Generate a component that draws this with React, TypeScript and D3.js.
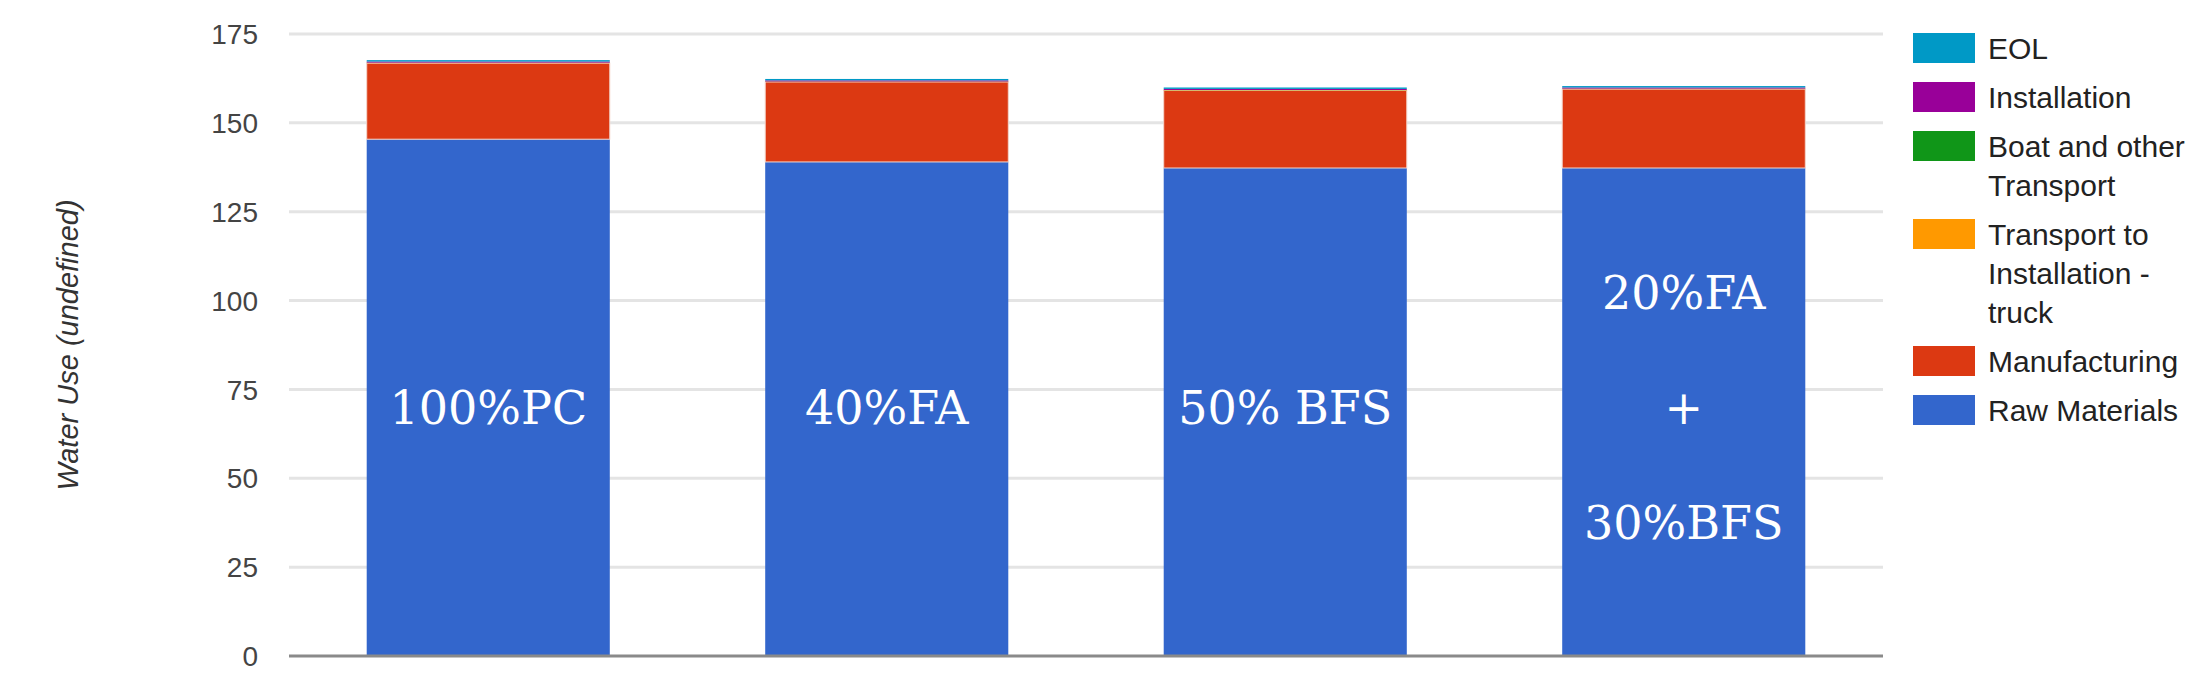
import React from 'react';
import * as d3 from 'd3';

const categories = ['100%PC', '40%FA', '50% BFS', '20%FA + 30%BFS'];
const barLabels = [['100%PC'], ['40%FA'], ['50% BFS'], ['20%FA', '+', '30%BFS']];

// stack order, bottom to top
const seriesNames = [
  'Raw Materials',
  'Manufacturing',
  'Transport to Installation - truck',
  'Boat and other Transport',
  'Installation',
  'EOL',
];
const rawMaterials = [145.4, 139.0, 137.3, 137.3];
const manufacturing = [21.4, 22.5, 21.8, 22.2];
const transportTruck = [0.1, 0.1, 0.1, 0.1];
const boatTransport = [0.05, 0.05, 0.05, 0.05];
const installation = [0.3, 0.3, 0.3, 0.3];
const eol = [0.4, 0.4, 0.4, 0.4];
const seriesColors = ['#3366cc', '#dc3912', '#ff9900', '#109618', '#990099', '#0099c6'];

const yTicks = [0, 25, 50, 75, 100, 125, 150, 175];

const width = 2211;
const height = 693;
const plot = {left: 289, right: 1883, top: 34, bottom: 656};

const seriesValues = [rawMaterials, manufacturing, transportTruck, boatTransport, installation, eol];
const rows = categories.map((c, i) => {
  const row: Record<string, any> = {category: c};
  seriesNames.forEach((s, j) => {
    row[s] = seriesValues[j][i];
  });
  return row;
});

const legendFont = "30px 'Liberation Sans', Arial, sans-serif";

function wrapLabel(label: string, maxWidth: number): string[] {
  const canvas = document.createElement('canvas');
  const ctx = canvas.getContext('2d');
  if (!ctx) return [label];
  ctx.font = legendFont;
  const words = label.split(' ');
  const lines: string[] = [];
  let line = '';
  words.forEach((w) => {
    const test = line ? `${line} ${w}` : w;
    if (line && ctx.measureText(test).width > maxWidth) {
      lines.push(line);
      line = w;
    } else {
      line = test;
    }
  });
  if (line) lines.push(line);
  return lines;
}

export default function App() {
  const xScale = d3.scaleBand()
    .domain(categories)
    .range([plot.left, plot.right])
    .paddingInner(0.39)
    .paddingOuter(0.195);

  const yScale = d3.scaleLinear()
    .domain([0, 175])
    .range([plot.bottom, plot.top]);

  const stacked = d3.stack().keys(seriesNames)(rows as any);

  // legend, top entry is last series
  const legendItems = seriesNames.map((s, i) => ({name: s, color: seriesColors[i]})).reverse();
  let cursor = 48;
  const legendLayout = legendItems.map((item) => {
    const lines = wrapLabel(item.name, 205);
    const y0 = cursor;
    cursor = y0 + (lines.length - 1) * 39 + 49;
    return {...item, lines, y0};
  });

  const labelCenter = yScale(70);
  const lineGap = 115;

  return (
    <svg
      width={width}
      height={height}
      style={{position: 'absolute', left: 0, top: 0, background: '#fff'}}
    >
      {yTicks.filter((t) => t !== 0).map((t) => (
        <line
          key={t}
          x1={plot.left}
          x2={plot.right}
          y1={yScale(t)}
          y2={yScale(t)}
          stroke="#e4e4e4"
          strokeWidth={3}
        />
      ))}
      {yTicks.map((t) => (
        <text
          key={t}
          x={258}
          y={yScale(t)}
          dy="0.36em"
          textAnchor="end"
          fontFamily="'Liberation Sans', Arial, sans-serif"
          fontSize={28}
          fill="#444"
        >{t}</text>
      ))}
      <text
        transform={`translate(68, 345) rotate(-90)`}
        textAnchor="middle"
        dy="0.36em"
        fontFamily="'Liberation Sans', Arial, sans-serif"
        fontStyle="italic"
        fontSize={29}
        fill="#333"
      >Water Use (undefined)</text>

      {stacked.map((layer, j) => (
        <g key={layer.key} fill={seriesColors[j]}>
          {layer.map((d, i) => (
            <rect
              key={categories[i]}
              x={xScale(categories[i])}
              y={yScale(d[1])}
              width={xScale.bandwidth()}
              height={Math.max(0, yScale(d[0]) - yScale(d[1]))}
              stroke={j === 1 ? '#f4d6cc' : 'none'}
              strokeWidth={j === 1 ? 1 : 0}
            />
          ))}
        </g>
      ))}

      <line
        x1={plot.left}
        x2={plot.right}
        y1={yScale(0)}
        y2={yScale(0)}
        stroke="#8a8a8a"
        strokeWidth={3}
      />

      {barLabels.map((lines, i) => {
        const cx = (xScale(categories[i]) ?? 0) + xScale.bandwidth() / 2;
        const first = labelCenter - ((lines.length - 1) / 2) * lineGap;
        return (
          <g key={categories[i]}>
            {lines.map((ln, k) => (
              <text
                key={k}
                x={cx}
                y={first + k * lineGap}
                dy="0.36em"
                textAnchor="middle"
                fontFamily="'DejaVu Serif', serif"
                fontSize={46}
                fill="#fff"
              >{ln}</text>
            ))}
          </g>
        );
      })}

      {legendLayout.map((item) => (
        <g key={item.name}>
          <rect x={1913} y={item.y0 - 15} width={62} height={30} fill={item.color} />
          {item.lines.map((ln, k) => (
            <text
              key={k}
              x={1988}
              y={item.y0 + k * 39}
              dy="0.36em"
              fontFamily="'Liberation Sans', Arial, sans-serif"
              fontSize={30}
              fill="#222"
            >{ln}</text>
          ))}
        </g>
      ))}
    </svg>
  );
}
